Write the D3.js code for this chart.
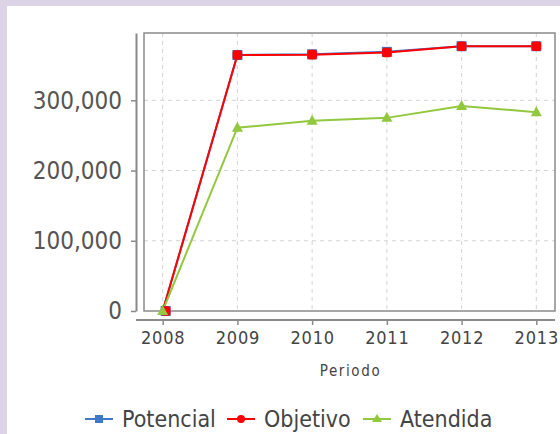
<!DOCTYPE html>
<html>
<head>
<meta charset="utf-8">
<script src="https://cdn.jsdelivr.net/npm/d3@7"></script>
<style>
  body { margin: 0; background: #dcd4e6; }
  svg { display: block; }
</style>
</head>
<body>
<div id="chart"></div>
<script>
// data
let years = ["2008", "2009", "2010", "2011", "2012", "2013"];
let potencial = [0, 364500, 365500, 369000, 377000, 377000];
let objetivo = [0, 364500, 365000, 368000, 377000, 377000];
let atendida = [0, 261000, 271000, 275000, 292000, 283000];
let yTicks = [0, 100000, 200000, 300000];

let svgWidth = 560, svgHeight = 434;
// plot box
let box = { left: 144, top: 33, right: 555, bottom: 311 };

let svg = d3.select("#chart")
  .append("svg")
  .attr("width", svgWidth)
  .attr("height", svgHeight);

// white panel over the lavender page
svg.append("rect")
  .attr("x", 7).attr("y", 6)
  .attr("width", svgWidth - 7).attr("height", svgHeight - 6)
  .attr("fill", "#ffffff");

let x = d3.scalePoint()
  .domain(years)
  .range([box.left, box.right])
  .padding(0.25);

let yMax = d3.max(potencial.concat(objetivo, atendida)) * 1.05;
let y = d3.scaleLinear()
  .domain([0, yMax])
  .range([box.bottom, box.top]);

// grid
let grid = svg.append("g");
grid.selectAll(".vg")
  .data(years)
  .enter().append("line")
  .attr("x1", d => x(d)).attr("x2", d => x(d))
  .attr("y1", box.top).attr("y2", box.bottom)
  .attr("stroke", "#d4d4d4")
  .attr("stroke-dasharray", "4,4");
grid.selectAll(".hg")
  .data(yTicks.slice(1))
  .enter().append("line")
  .attr("x1", box.left).attr("x2", box.right)
  .attr("y1", d => y(d)).attr("y2", d => y(d))
  .attr("stroke", "#d4d4d4")
  .attr("stroke-dasharray", "4,4");

// plot border
svg.append("rect")
  .attr("x", box.left).attr("y", box.top)
  .attr("width", box.right - box.left).attr("height", box.bottom - box.top)
  .attr("fill", "none")
  .attr("stroke", "#8a8a8a")
  .attr("stroke-width", 1.5);

// y axis, set a little apart from the box
let yAxis = svg.append("g")
  .attr("transform", "translate(136,0)")
  .call(d3.axisLeft(y).tickValues(yTicks).tickFormat(d3.format(",")).tickSize(5).tickSizeOuter(0).tickPadding(9));
yAxis.select(".domain").attr("stroke", "#8a8a8a").attr("stroke-width", 2);
yAxis.selectAll(".tick line").attr("stroke", "#8a8a8a").attr("stroke-width", 1.5);
yAxis.selectAll("text")
  .attr("fill", "#555")
  .style("font-family", "'DejaVu Sans Condensed', 'DejaVu Sans', sans-serif")
  .style("font-size", "24px");

// x axis
let xAxis = svg.append("g")
  .attr("transform", "translate(0,320)")
  .call(d3.axisBottom(x).tickSize(5).tickSizeOuter(0).tickPadding(6));
xAxis.select(".domain")
  .attr("d", `M136,0H${box.right}`)
  .attr("stroke", "#8a8a8a").attr("stroke-width", 2);
xAxis.selectAll(".tick line").attr("stroke", "#8a8a8a").attr("stroke-width", 1.5);
xAxis.selectAll("text")
  .attr("fill", "#444")
  .style("font-family", "'DejaVu Sans Condensed', 'DejaVu Sans', sans-serif")
  .style("font-size", "18px")
  .style("letter-spacing", "0.8px");

svg.append("text")
  .attr("x", (box.left + box.right) / 2 + 1)
  .attr("y", 376)
  .attr("text-anchor", "middle")
  .attr("fill", "#444")
  .style("font-family", "'DejaVu Sans Condensed', 'DejaVu Sans', sans-serif")
  .style("font-size", "15px")
  .style("letter-spacing", "1.6px")
  .text("Periodo");

// series
let series = [
  { name: "Potencial", values: potencial, color: "#3d78c9", marker: "square" },
  { name: "Objetivo", values: objetivo, color: "#ff0000", marker: "round" },
  { name: "Atendida", values: atendida, color: "#92c83e", marker: "triangle" }
];

let line = d3.line()
  .x((d, i) => x(years[i]))
  .y(d => y(d));

function drawMarker(g, type, color) {
  if (type === "square") {
    g.append("rect").attr("x", -5).attr("y", -5).attr("width", 10).attr("height", 10).attr("fill", color);
  } else if (type === "round") {
    g.append("rect").attr("x", -4.8).attr("y", -4.8).attr("width", 9.6).attr("height", 9.6).attr("rx", 2.5).attr("fill", color);
  } else {
    g.append("path").attr("d", "M0,-6L5.5,4L-5.5,4Z").attr("fill", color);
  }
}

series.forEach(s => {
  svg.append("path")
    .datum(s.values)
    .attr("d", line)
    .attr("fill", "none")
    .attr("stroke", s.color)
    .attr("stroke-width", 2);
});
series.forEach(s => {
  s.values.forEach((v, i) => {
    let g = svg.append("g").attr("transform", `translate(${x(years[i]) + (i === 0 && s.marker !== "triangle" ? 3 : 0)},${y(v)})`);
    drawMarker(g, s.marker, s.color);
  });
});

// legend
let legendPos = [85, 227, 363];
let legend = svg.append("g");
series.forEach((s, i) => {
  let g = legend.append("g").attr("transform", `translate(${legendPos[i]},419)`);
  g.append("line").attr("x1", 0).attr("x2", 28).attr("stroke", s.color).attr("stroke-width", 2);
  let m = g.append("g").attr("transform", "translate(14,0)");
  if (s.marker === "square") {
    m.append("rect").attr("x", -4).attr("y", -4).attr("width", 8).attr("height", 8).attr("fill", s.color);
  } else if (s.marker === "round") {
    m.append("circle").attr("r", 4).attr("fill", s.color);
  } else {
    m.append("path").attr("d", "M0,-5L5,3L-5,3Z").attr("fill", s.color);
  }
  g.append("text")
    .attr("x", 37).attr("y", 8)
    .attr("fill", "#444")
    .style("font-family", "'DejaVu Sans Condensed', 'DejaVu Sans', sans-serif")
    .style("font-size", "23px")
    .text(s.name);
});
</script>
</body>
</html>
